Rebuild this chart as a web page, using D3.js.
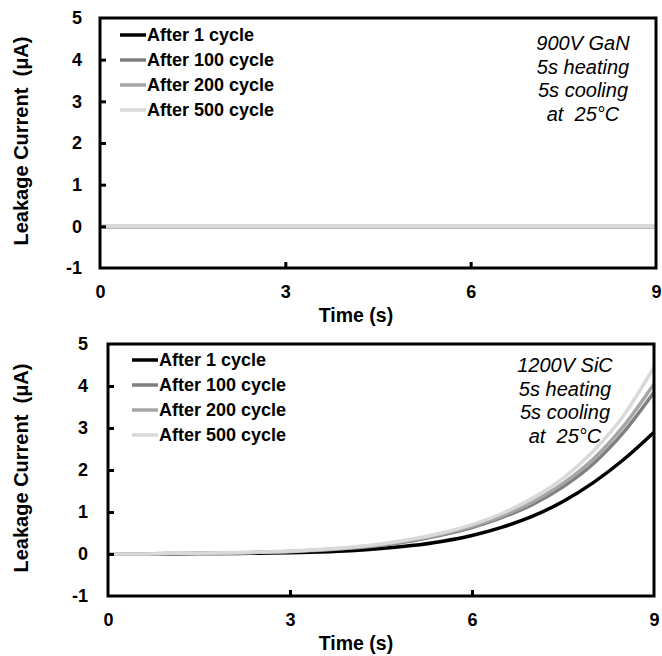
<!DOCTYPE html>
<html><head><meta charset="utf-8">
<script src="https://cdn.jsdelivr.net/npm/d3@7"></script>
<style>body{margin:0;background:#fff}svg{display:block}text{font-family:"Liberation Sans",Arial,sans-serif;white-space:pre}</style>
</head><body><svg id="c" width="662" height="656"></svg>
<script>
const times = [0,0.5,1,1.5,2,2.5,3,3.5,4,4.5,5,5.5,6,6.5,7,7.5,8,8.5,9];
const seriesNames = ["After 1 cycle","After 100 cycle","After 200 cycle","After 500 cycle"];
const seriesColors = ["#000000","#7f7f7f","#a6a6a6","#d9d9d9"];
// 900V GaN
const gan1   = [0,0,0,0,0,0,0,0,0,0,0,0,0,0,0,0,0,0,0];
const gan100 = [0,0,0,0,0,0,0,0,0,0,0,0,0,0,0,0,0,0,0];
const gan200 = [0,0,0,0,0,0,0,0,0,0,0,0,0,0,0,0,0,0,0];
const gan500 = [0,0,0,0,0,0,0,0,0,0,0,0,0,0,0,0,0,0,0];
// 1200V SiC
const sic1   = [0,0,0,0.01,0.01,0.02,0.03,0.05,0.08,0.13,0.2,0.3,0.44,0.64,0.9,1.25,1.7,2.25,2.9];
const sic100 = [0,0,0.01,0.01,0.02,0.04,0.06,0.09,0.14,0.21,0.31,0.45,0.63,0.87,1.18,1.6,2.15,2.9,3.85];
const sic200 = [0,0,0.01,0.01,0.02,0.04,0.06,0.1,0.15,0.22,0.33,0.47,0.66,0.91,1.24,1.68,2.26,3.05,4.05];
const sic500 = [0,0,0.01,0.02,0.03,0.05,0.07,0.11,0.16,0.24,0.35,0.5,0.7,0.97,1.33,1.8,2.45,3.3,4.45];
const xTicks = [0,3,6,9];
const yTicks = [-1,0,1,2,3,4,5];
const notesGaN = ["900V GaN","5s heating","5s cooling","at  25\u00b0C"];
const notesSiC = ["1200V SiC","5s heating","5s cooling","at  25\u00b0C"];

const svg = d3.select("#c");

function panel(cfg){
  const {left,right,top,bottom,data,lw,notes,noteX,noteY,legX,legY,yPad} = cfg;
  const x = d3.scaleLinear().domain([0,9]).range([left,right]);
  const y = d3.scaleLinear().domain([-1,5]).range([bottom,top]);
  const g = svg.append("g");
  const line = d3.line().x((d,i)=>x(times[i])).y(d=>y(d)).curve(d3.curveMonotoneX);
  data.forEach((s,i)=>{
    g.append("path").attr("d",line(s)).attr("fill","none")
      .attr("stroke",seriesColors[i]).attr("stroke-width",lw);
  });
  g.append("rect").attr("x",left).attr("y",top).attr("width",right-left).attr("height",bottom-top)
    .attr("fill","none").attr("stroke","#000").attr("stroke-width",3);
  const yAx = d3.axisLeft(y).tickValues(yTicks).tickSize(-6).tickPadding(yPad).tickFormat(d3.format("d"));
  const ya = g.append("g").attr("transform",`translate(${left},0)`).call(yAx);
  ya.select(".domain").remove();
  ya.selectAll("line").attr("stroke","#000").attr("stroke-width",3)
    .filter(d=>d===-1||d===5).remove();
  ya.selectAll("text").attr("font-size",18).attr("font-weight","bold").attr("fill","#000")
    .text(d=>d<0?"-"+Math.abs(d):d);
  const xAx = d3.axisBottom(x).tickValues(xTicks).tickSize(-6).tickPadding(17).tickFormat(d3.format("d"));
  const xa = g.append("g").attr("transform",`translate(0,${bottom})`).call(xAx);
  xa.select(".domain").remove();
  xa.selectAll("line").attr("stroke","#000").attr("stroke-width",3)
    .filter(d=>d===0||d===9).remove();
  xa.selectAll("text").attr("font-size",18).attr("font-weight","bold").attr("fill","#000");
  g.append("text").attr("x",356).attr("y",bottom+54).attr("text-anchor","middle")
    .attr("font-size",19.5).attr("font-weight","bold").text("Time (s)");
  g.append("text").attr("transform",`translate(28,${(top+bottom)/2-2}) rotate(-90)`)
    .attr("text-anchor","middle").attr("font-size",20).attr("font-weight","bold")
    .text("Leakage Current  (\u03bcA)");
  seriesNames.forEach((n,i)=>{
    const ly = legY + i*25;
    g.append("line").attr("x1",legX).attr("x2",legX+26).attr("y1",ly).attr("y2",ly)
      .attr("stroke",seriesColors[i]).attr("stroke-width",3.5);
    g.append("text").attr("x",legX+27).attr("y",ly+6).attr("font-size",18).attr("font-weight","bold").text(n);
  });
  notes.forEach((t,i)=>{
    g.append("text").attr("x",noteX).attr("y",noteY+i*23.5).attr("text-anchor","middle")
      .attr("font-size",20).attr("font-style","italic").text(t);
  });
}

panel({left:100,right:656,top:18,bottom:268,data:[gan1,gan100,gan200,gan500],lw:4.5,
  notes:notesGaN,noteX:583,noteY:50,legX:120,legY:35,yPad:18});
panel({left:108,right:654,top:344,bottom:596,data:[sic1,sic100,sic200,sic500],lw:3.5,
  notes:notesSiC,noteX:565,noteY:372,legX:132,legY:360,yPad:20});
</script></body></html>
